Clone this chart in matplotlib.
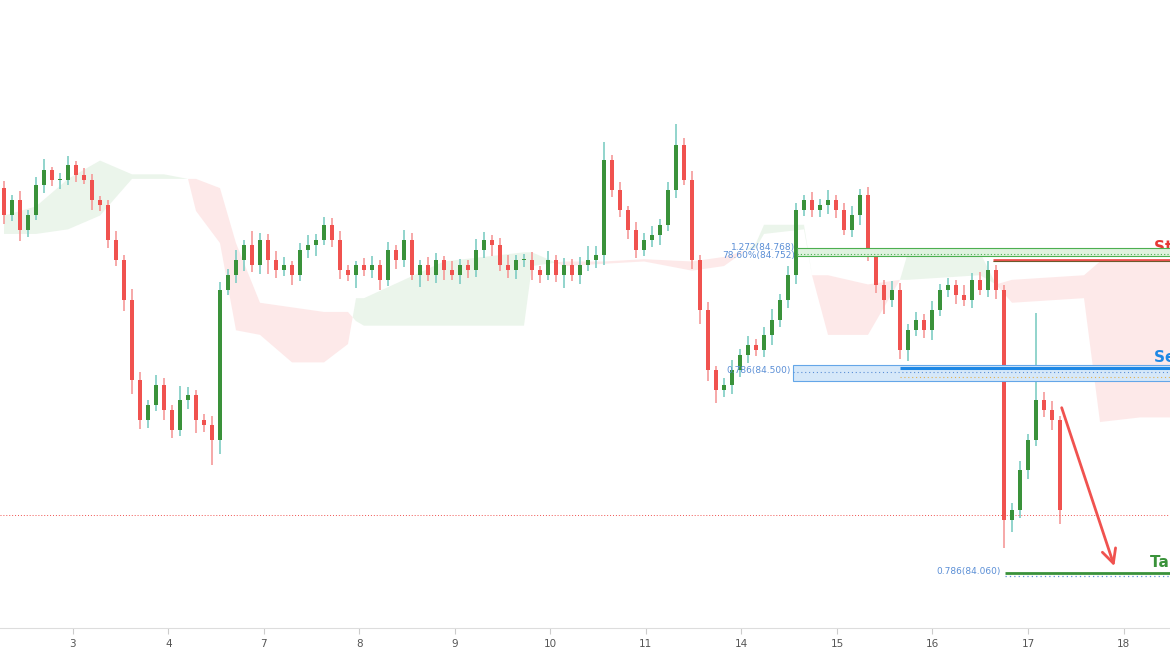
import numpy as np
import matplotlib.pyplot as plt
from matplotlib.patches import Rectangle, FancyArrowPatch

# closing prices, one bar every ~2 hours
closes = [84.841, 84.874, 84.809, 84.841, 84.907, 84.939, 84.918, 84.918, 84.950, 84.929,
          84.918, 84.874, 84.863, 84.787, 84.743, 84.656, 84.482, 84.394, 84.427, 84.471,
          84.416, 84.373, 84.438, 84.449, 84.394, 84.384, 84.351, 84.678, 84.711, 84.743,
          84.776, 84.732, 84.787, 84.743, 84.721, 84.732, 84.711, 84.765, 84.776, 84.787,
          84.820, 84.787, 84.721, 84.711, 84.732, 84.721, 84.732, 84.700, 84.765, 84.743,
          84.787, 84.711, 84.732, 84.711, 84.743, 84.721, 84.711, 84.732, 84.721, 84.765,
          84.787, 84.776, 84.732, 84.721, 84.743, 84.743, 84.721, 84.711, 84.743, 84.711,
          84.732, 84.711, 84.732, 84.743, 84.754, 84.961, 84.896, 84.852, 84.809, 84.765,
          84.787, 84.798, 84.820, 84.896, 84.994, 84.918, 84.743, 84.634, 84.503, 84.460,
          84.471, 84.503, 84.536, 84.558, 84.547, 84.580, 84.612, 84.656, 84.711, 84.852,
          84.874, 84.852, 84.863, 84.874, 84.852, 84.809, 84.841, 84.885, 84.754, 84.689,
          84.656, 84.678, 84.547, 84.591, 84.612, 84.591, 84.634, 84.678, 84.689, 84.667,
          84.656, 84.700, 84.678, 84.721, 84.678, 84.176, 84.198, 84.285, 84.351, 84.438,
          84.416, 84.394, 84.198]
first_open = 84.900

# wick lengths in 0.001 units
wick_up = [15, 10, 20, 12, 18, 25, 8, 14, 20, 10, 15, 12, 8, 10, 20, 12, 25, 18, 10, 22,
           15, 12, 30, 18, 10, 14, 20, 18, 12, 22, 10, 30, 15, 12, 20, 18, 10, 16, 22, 12,
           18, 14, 20, 12, 8, 16, 20, 12, 18, 10, 22, 14, 12, 18, 16, 10, 20, 14, 12, 25,
           18, 10, 16, 22, 12, 14, 18, 10, 20, 12, 16, 14, 18, 30, 20, 40, 12, 18, 10, 16,
           14, 20, 12, 18, 46, 15, 20, 12, 18, 10, 16, 22, 14, 20, 12, 18, 25, 14, 20, 16,
           12, 18, 14, 22, 10, 16, 20, 12, 18, 14, 10, 20, 16, 12, 18, 14, 20, 12, 16, 10,
           22, 14, 18, 20, 12, 10, 16, 20, 12, 190, 18, 20, 10]
wick_dn = [20, 12, 25, 15, 10, 18, 14, 20, 12, 16, 10, 22, 14, 18, 12, 25, 30, 20, 16, 12,
           22, 18, 14, 20, 28, 16, 55, 30, 12, 18, 24, 14, 20, 30, 16, 12, 22, 14, 18, 25,
           12, 16, 20, 14, 28, 12, 18, 22, 14, 20, 16, 12, 26, 14, 18, 22, 12, 20, 16, 14,
           18, 24, 12, 16, 20, 14, 22, 18, 12, 16, 28, 14, 20, 12, 18, 22, 16, 14, 20, 18,
           12, 16, 22, 14, 18, 12, 20, 30, 24, 28, 16, 20, 14, 18, 12, 16, 22, 14, 18, 20,
           12, 16, 14, 20, 18, 12, 16, 22, 14, 18, 30, 16, 20, 24, 14, 18, 22, 12, 16, 20,
           14, 18, 12, 16, 20, 60, 25, 18, 20, 14, 16, 22, 30]

# ichimoku cloud spans
cloud_x = [0, 4, 8, 12, 16, 20, 23, 24, 27, 29, 32, 36, 40, 43, 44, 45, 50, 55, 60, 65,
           66, 70, 75, 80, 86, 90, 94, 95, 100, 101, 103, 108, 112, 113, 122, 124, 126, 135,
           137, 142, 146]
span_a = [84.84, 84.86, 84.92, 84.96, 84.93, 84.93, 84.92, 84.85, 84.78, 84.59, 84.58, 84.52,
          84.52, 84.56, 84.66, 84.66, 84.70, 84.74, 84.75, 84.76, 84.76, 84.73, 84.735, 84.74,
          84.72, 84.73, 84.78, 84.82, 84.82, 84.71, 84.58, 84.58, 84.70, 84.76, 84.76, 84.69,
          84.65, 84.66, 84.39, 84.40, 84.40]
span_b = [84.80, 84.80, 84.81, 84.84, 84.92, 84.92, 84.92, 84.92, 84.90, 84.78, 84.65, 84.64,
          84.63, 84.63, 84.61, 84.60, 84.60, 84.60, 84.60, 84.60, 84.73, 84.74, 84.74, 84.745,
          84.74, 84.75, 84.77, 84.80, 84.81, 84.71, 84.71, 84.69, 84.70, 84.70, 84.71, 84.69,
          84.70, 84.71, 84.74, 84.74, 84.74]

day_labels = ["3", "4", "7", "8", "9", "10", "11", "14", "15", "16", "17", "18"]

# key levels
fib_top, fib_top2 = 84.768, 84.752
stop_loss = 84.744
entry_zone = (84.479, 84.514)
entry_line = 84.508
fib_618 = 84.492
take_profit = 84.060
last_price = 84.187

UP, DOWN = "#3a923a", "#f0524f"
UP_WICK, DOWN_WICK = "#7fcdc4", "#f59a99"

fig = plt.figure(figsize=(11.7, 6.5), dpi=100)
ax = fig.add_axes([0, 22 / 650, 1, 628 / 650])
ax.set_xlim(-0.5, 145.75)
ax.set_ylim(83.941, 85.31)

cx = np.array(cloud_x, float)
a = np.array(span_a)
b = np.array(span_b)
ax.fill_between(cx, a, b, where=a >= b, color="#e3f1e3", alpha=0.7, lw=0, interpolate=True)
ax.fill_between(cx, a, b, where=a < b, color="#fde0e0", alpha=0.7, lw=0, interpolate=True)

# candles
opens = [first_open] + closes[:-1]
for i, (o, c) in enumerate(zip(opens, closes)):
    up = c >= o
    hi = max(o, c) + wick_up[i] / 1000
    lo = min(o, c) - wick_dn[i] / 1000
    ax.vlines(i, lo, hi, color=UP_WICK if up else DOWN_WICK, lw=1.2, zorder=2)
    ax.add_patch(Rectangle((i - 0.22, min(o, c)), 0.44, max(abs(c - o), 0.002),
                           color=UP if up else DOWN, lw=0, zorder=3))

ax.axhline(last_price, color="#f0524f", lw=0.7, ls=(0, (1, 2)))

# stop loss zone (top)
right = 146
ax.add_patch(Rectangle((99.1, fib_top2), right - 99.1, fib_top - fib_top2 + 0.002,
                       fc="#dff2df", ec="#4caf50", lw=0.8, zorder=4))
ax.hlines([fib_top2 + 0.004], 99.1, right, color="#4caf50", lw=0.8, ls=(0, (1, 2)), zorder=5)
ax.hlines(stop_loss, 123.6, right, color="#f0524f", lw=2, zorder=5)
ax.hlines(stop_loss - 0.002, 123.6, right, color="#6d5a2c", lw=0.8, zorder=5)
ax.text(98.9, 84.770, "1.272(84.768)", color="#5b8fd6", fontsize=6.5, ha="right", va="center")
ax.text(98.9, 84.754, "78.60%(84.752)", color="#5b8fd6", fontsize=6.5, ha="right", va="center")
ax.text(143.7, 84.770, "Stop Loss", color="#e53935", fontsize=11, fontweight="bold",
        va="center", clip_on=False)

# entry zone
ax.add_patch(Rectangle((98.6, entry_zone[0]), right - 98.6, entry_zone[1] - entry_zone[0],
                       fc="#d6e8f9", ec="#64a6e8", lw=0.8, zorder=4))
ax.hlines(entry_line, 112, right, color="#1e88e5", lw=2.2, zorder=5)
ax.hlines(84.500, 98.6, right, color="#5b8fd6", lw=0.8, ls=(0, (1, 2.5)), zorder=5)
ax.hlines(fib_618 - 0.004, 112, right, color="#e0b050", lw=0.8, ls=(0, (1, 2.5)), zorder=5)
ax.text(98.4, 84.503, "0.786(84.500)", color="#5b8fd6", fontsize=6.5, ha="right", va="center")
ax.text(118.5, 84.493, "61.80%(84.492)", color="#d4b24c", fontsize=6.5, ha="center", va="center")
ax.text(143.7, 84.530, "Sell Entry", color="#1e88e5", fontsize=11, fontweight="bold",
        va="center", clip_on=False)

# take profit
ax.hlines(take_profit, 125.1, right, color="#3a923a", lw=2, zorder=5)
ax.hlines(take_profit - 0.005, 125.1, right, color="#5b8fd6", lw=0.9, ls=(0, (1, 2.5)), zorder=5)
ax.text(124.6, 84.064, "0.786(84.060)", color="#5b8fd6", fontsize=6.5, ha="right", va="center")
ax.text(143.3, 84.083, "Take Profit", color="#3a923a", fontsize=11, fontweight="bold",
        va="center", clip_on=False)

ax.add_patch(FancyArrowPatch((132.1, 84.427), (138.9, 84.070),
                             arrowstyle="->,head_length=4,head_width=2",
                             color="#f0524f", lw=2, mutation_scale=2.5, zorder=6))

ticks = 8.6 + 11.94 * np.arange(len(day_labels))
ax.set_xticks(ticks)
ax.set_xticklabels(day_labels, fontsize=7.5, color="#555555")
ax.tick_params(axis="x", length=4, color="#cccccc", pad=4)
ax.set_yticks([])
for s in ["top", "left", "right"]:
    ax.spines[s].set_visible(False)
ax.spines["bottom"].set_color("#dddddd")

fig.savefig("out.png", dpi=100)
